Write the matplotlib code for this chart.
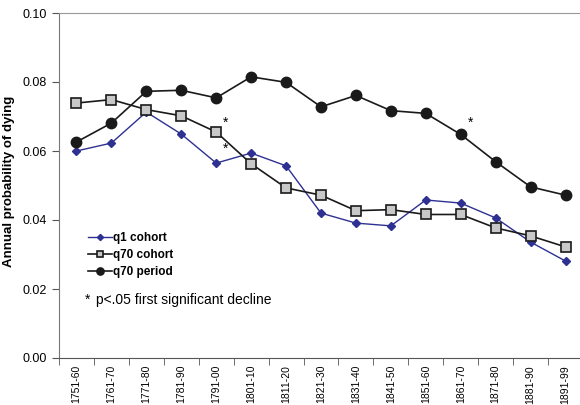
import matplotlib
matplotlib.use("Agg")
import matplotlib.pyplot as plt
import numpy as np

plt.rcParams['font.family'] = ['Liberation Sans', 'DejaVu Sans']

periods = ['1751-60', '1761-70', '1771-80', '1781-90', '1791-00', '1801-10',
           '1811-20', '1821-30', '1831-40', '1841-50', '1851-60', '1861-70',
           '1871-80', '1881-90', '1891-99']
q1_cohort = [0.0600, 0.0623, 0.0713, 0.0649, 0.0565, 0.0594, 0.0557, 0.0420,
             0.0391, 0.0383, 0.0458, 0.0449, 0.0406, 0.0336, 0.0281]
q70_cohort = [0.0739, 0.0749, 0.0720, 0.0702, 0.0655, 0.0563, 0.0493, 0.0472,
              0.0427, 0.0430, 0.0416, 0.0416, 0.0377, 0.0354, 0.0322]
q70_period = [0.0626, 0.0681, 0.0773, 0.0776, 0.0754, 0.0815, 0.0799, 0.0728,
              0.0761, 0.0717, 0.0709, 0.0648, 0.0569, 0.0496, 0.0472]

x = np.arange(len(periods))

fig = plt.figure(figsize=(5.8, 4.05), dpi=100)
# axes runs slightly past the right edge, like the original
ax = fig.add_axes([59/580, 47/405, 524/580, 345/405])

ax.plot(x, q1_cohort, color='#2E3192', lw=1.0, marker='D', ms=4.5,
        mfc='#2E3192', mec='#2E3192', label='q1 cohort', zorder=3)
ax.plot(x, q70_cohort, color='#1a1a1a', lw=1.2, marker='s', ms=7,
        mfc='#c8c8c8', mec='#1a1a1a', mew=1.2, label='q70 cohort', zorder=3)
ax.plot(x, q70_period, color='#1a1a1a', lw=1.2, marker='o', ms=7.5,
        mfc='#1a1a1a', mec='#1a1a1a', label='q70 period', zorder=3)

# significance stars
ax.text(4.28, 0.0682, '*', fontsize=10, ha='center', va='center')
ax.text(4.28, 0.0606, '*', fontsize=10, ha='center', va='center')
ax.text(11.28, 0.0682, '*', fontsize=10, ha='center', va='center')

ax.set_xlim(-0.5, len(periods) - 0.5)
ax.set_ylim(0, 0.10)
ax.set_yticks([0, 0.02, 0.04, 0.06, 0.08, 0.10])
ax.set_yticklabels(['0.00', '0.02', '0.04', '0.06', '0.08', '0.10'], fontsize=9)
ax.set_xticks(x)
ax.set_xticklabels(periods, rotation=90, fontsize=7.5)
ax.set_xticks(np.arange(len(periods) + 1) - 0.5, minor=True)
ax.tick_params(axis='x', which='major', length=0, pad=5)
ax.tick_params(axis='x', which='minor', length=5, color='#555555')
ax.tick_params(axis='y', length=5, color='#555555')

ax.set_ylabel('Annual probability of dying', fontsize=9.5, fontweight='bold')
ax.yaxis.set_label_coords(-0.084, 0.513)

ax.spines['right'].set_visible(False)
ax.spines['top'].set_color('#999999')
ax.spines['left'].set_color('#777777')
ax.spines['bottom'].set_color('#555555')

leg = ax.legend(loc='upper left', bbox_to_anchor=(0.035, 0.395), frameon=False,
                prop={'weight': 'bold', 'size': 8.5}, markerscale=0.7,
                handlelength=2.0, handletextpad=0.15, labelspacing=0.4)

ax.text(0.24, 0.0168, '*', fontsize=10, ha='left', va='center')
ax.text(0.56, 0.0168, 'p<.05 first significant decline', fontsize=10,
        ha='left', va='center')

fig.savefig('out.png', dpi=100)
